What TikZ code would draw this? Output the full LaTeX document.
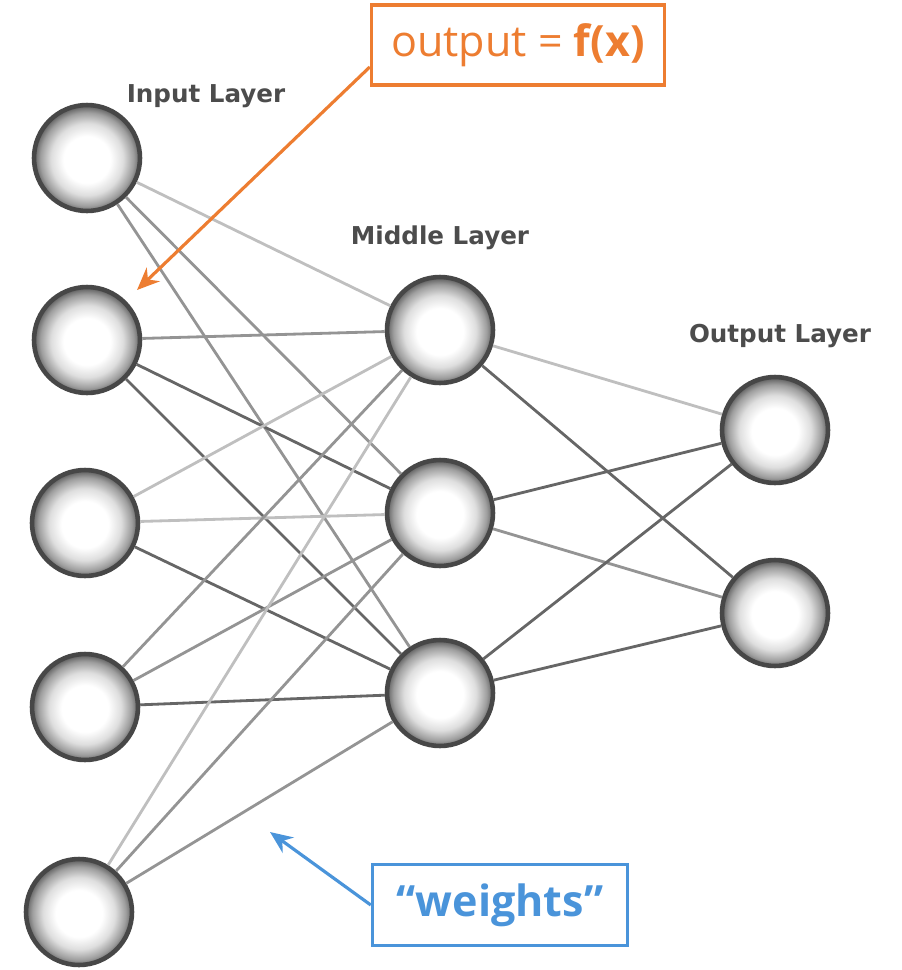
\documentclass[tikz,border=0pt]{standalone}
\usepackage{fontspec}
\setmainfont{Open Sans}
\newfontfamily\layerfont{DejaVu Sans}
\usetikzlibrary{arrows.meta}
\definecolor{noteorange}{HTML}{ED7D31}
\definecolor{noteblue}{HTML}{4A94DA}
\pgfdeclareradialshading{neuronball}{\pgfpoint{0bp}{-1bp}}{color(0bp)=(white); color(11bp)=(white); color(17bp)=(black!13); color(22bp)=(black!38); color(25bp)=(black!62); color(50bp)=(black!62)}
\tikzset{
  neuron/.style={circle, minimum size=2.12cm, inner sep=0pt, draw=black!72, line width=2.6pt, shading=neuronball},
  layerlabel/.style={font=\layerfont\bfseries\fontsize{14}{16}\selectfont, text=black!70},
  wlight/.style={draw=black!25, line width=1.6pt},
  wmid/.style={draw=black!42, line width=1.6pt},
  wdark/.style={draw=black!60, line width=1.6pt},
  notebox/.style={draw, line width=2pt, inner sep=0pt, font=\fontsize{24.5}{28}\selectfont},
}
\begin{document}
\begin{tikzpicture}[x=0.02cm,y=-0.02cm]
\useasboundingbox (0,0) rectangle (902,970);
\node[neuron] (in1) at (87,158) {};
\node[neuron] (in2) at (87,340) {};
\node[neuron] (in3) at (85,523) {};
\node[neuron] (in4) at (85,707) {};
\node[neuron] (in5) at (79,912) {};
\node[neuron] (mid1) at (440,330) {};
\node[neuron] (mid2) at (440,513) {};
\node[neuron] (mid3) at (440,693) {};
\node[neuron] (out1) at (775,430) {};
\node[neuron] (out2) at (775,613) {};
\node[layerlabel] (inlabel) at (206,96) {Input Layer};
\node[layerlabel] (midlabel) at (440,238) {Middle Layer};
\node[layerlabel] (outlabel) at (780,336) {Output Layer};
% input to middle
\draw[wlight] (in1) -- (mid1);
\draw[wmid] (in1) -- (mid2);
\draw[wmid] (in1) -- (mid3);
\draw[wmid] (in2) -- (mid1);
\draw[wdark] (in2) -- (mid2);
\draw[wdark] (in2) -- (mid3);
\draw[wlight] (in3) -- (mid1);
\draw[wlight] (in3) -- (mid2);
\draw[wdark] (in3) -- (mid3);
\draw[wmid] (in4) -- (mid1);
\draw[wmid] (in4) -- (mid2);
\draw[wdark] (in4) -- (mid3);
\draw[wlight] (in5) -- (mid1);
\draw[wmid] (in5) -- (mid2);
\draw[wmid] (in5) -- (mid3);
% middle to output
\draw[wlight] (mid1) -- (out1);
\draw[wdark] (mid1) -- (out2);
\draw[wdark] (mid2) -- (out1);
\draw[wmid] (mid2) -- (out2);
\draw[wdark] (mid3) -- (out1);
\draw[wdark] (mid3) -- (out2);
% notes
\node[notebox, draw=noteorange, text=noteorange, minimum width=5.86cm, minimum height=1.6cm] (outnote) at (518,45) {output = \textbf{f(x)}};
\node[notebox, draw=noteblue, text=noteblue, minimum width=5.1cm, minimum height=1.62cm] (weightnote) at (500,905) {\textbf{“weights”}};
\coordinate (outtip) at (137,290);
\coordinate (weighttip) at (270,832);
\draw[noteorange, line width=1.8pt, -{Stealth[length=0.45cm, width=0.38cm]}] ([yshift=-0.44cm]outnote.west) -- (outtip);
\draw[noteblue, line width=1.8pt, -{Stealth[length=0.45cm, width=0.38cm]}] (weightnote.west) -- (weighttip);
\end{tikzpicture}
\end{document}
